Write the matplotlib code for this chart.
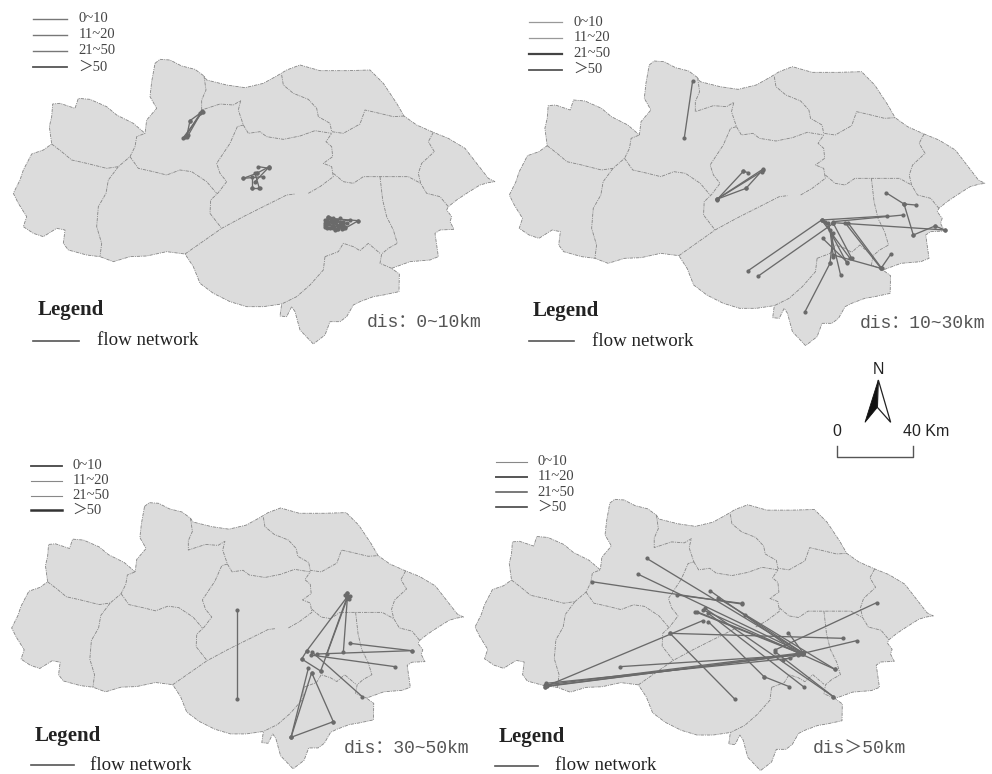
import numpy as np
import matplotlib
matplotlib.use("Agg")
import matplotlib.pyplot as plt
from matplotlib.patches import Polygon

# ---- map geometry, in the coordinates of the first panel ----
OUTLINE = [(465,190),(480,178),(510,180),(545,198),(585,208),(612,228),(620,240),(680,255),(735,263),(790,250),
 (830,228),(860,210),(900,195),(960,212),(1040,212),(1110,210),(1150,250),(1190,310),(1212,348),(1250,375),
 (1300,397),(1345,415),(1395,445),(1430,490),(1465,535),(1485,545),(1465,548),(1440,555),(1400,580),(1370,600),
 (1345,620),(1340,630),(1355,650),(1350,665),(1362,688),(1320,690),(1305,700),(1315,770),(1290,780),(1230,785),
 (1175,805),(1198,822),(1197,875),(1150,885),(1120,890),(1080,905),(1060,915),(1040,950),(1020,965),(990,965),
 (975,1005),(940,1032),(900,990),(885,935),(875,920),(860,950),(840,948),(845,912),(790,920),(740,920),
 (690,905),(640,880),(600,850),(580,800),(555,762),(500,755),(440,768),(390,770),(340,785),(300,770),
 (260,765),(205,750),(190,730),(195,690),(170,685),(130,710),(100,700),(70,680),(80,650),(55,610),
 (40,580),(60,540),(70,510),(95,462),(130,450),(155,432),(148,380),(155,350),(158,312),(180,310),
 (225,325),(235,295),(270,298),(320,320),(350,345),(400,370),(435,400),(440,360),(470,325),(450,290),(455,245)]
BORDERS = [
 [(155,432),(185,455),(215,480),(260,490),(320,505),(355,500),(390,470),(405,440),(410,410),(435,400)],
 [(355,500),(325,540),(318,580),(295,620),(290,680),(305,730),(300,770)],
 [(390,470),(415,505),(460,515),(500,525),(540,510),(575,515),(620,545),(650,580)],
 [(612,228),(618,270),(605,300),(605,330),(660,312),(700,315),(722,302),(715,330),(730,375),(712,380),(690,430),(650,490),(660,520),(680,545),(655,578),(632,600),(630,640),(665,685)],
 [(555,762),(665,685),(730,650),(800,615),(860,585),(885,582)],
 [(925,580),(960,560),(1000,530),(995,500),(970,490),(998,470),(995,440),(978,425),(995,400)],
 [(730,375),(745,400),(780,395),(800,410),(850,418),(900,408),(945,392),(995,400)],
 [(845,225),(850,255),(880,280),(925,298),(950,325),(955,350),(990,370),(995,395),(1030,400),(1080,372),(1095,330),(1130,338),(1180,350),(1212,348)],
 [(1300,397),(1285,425),(1303,455),(1265,490),(1255,520),(1262,550),(1280,580),(1320,590),(1345,620)],
 [(1000,520),(1030,545),(1060,550),(1090,530),(1140,530),(1190,530),(1225,530),(1262,550)],
 [(1140,530),(1148,600),(1160,650),(1180,690),(1192,730),(1165,745),(1145,762),(1140,790),(1175,805)],
 [(975,770),(1015,755),(1030,730),(1060,740),(1080,752),(1105,730),(1140,760)],
 [(975,770),(970,810),(930,855),(890,890),(845,912)],
]

# ---- flows per panel, as start and end points ----
FLOWS_1 = [((605,333),(555,412)),((600,340),(570,362)),((570,362),(560,410)),((608,335),(550,413)),((605,335),(565,405)),
 ((730,535),(770,520)),((770,520),(808,500)),((808,500),(765,545)),((808,505),(775,500)),((755,530),(755,565)),
 ((755,565),(780,565)),((730,535),(790,530)),((765,520),(778,565)),
 ((985,655),(1075,662)),((980,660),(1030,685)),((975,670),(1030,665)),((975,680),(1040,670)),((985,652),(1010,688)),
 ((990,685),(1020,655)),((1000,655),(1025,688)),((978,665),(1015,688)),((1035,685),(1075,662)),((985,670),(1050,660)),
 ((975,675),(1025,680)),((995,660),(1005,690)),((985,650),(1030,670)),((1010,660),(1035,680)),((980,685),(1030,675)),
 ((990,655),(1000,685)),((1005,660),(1015,685)),((1020,665),(1030,685)),((975,660),(1020,675))]
FLOWS_2 = [((578,242),(553,413)),((650,598),(788,508)),((650,598),(738,565)),((738,565),(788,510)),((650,600),(730,514)),
 ((730,514),(745,518)),((650,598),(785,515)),((965,660),(743,813)),((1000,670),(775,828)),((965,660),(1160,648)),
 ((1000,665),(1210,645)),((1212,612),(1158,578)),((1212,612),(1247,615)),((1212,612),(1240,705)),((1240,705),(1305,678)),
 ((1000,668),(1335,690)),((1305,678),(1335,690)),((965,660),(1050,775)),((975,665),(1040,788)),((985,670),(1022,826)),
 ((1000,670),(1055,775)),((990,690),(1000,770)),((968,715),(1040,785)),((1035,668),(1143,805)),((1045,670),(1145,805)),
 ((1000,765),(1143,805)),((1172,763),(1143,805)),((1000,700),(990,790)),((990,790),(915,935))]
FLOWS_3 = [((1042,440),(920,603)),((1042,445),(962,663)),((1042,445),(1030,607)),((1040,445),(980,612)),((905,627),(920,603)),
 ((905,627),(962,663)),((935,605),(1087,740)),((932,615),(1185,650)),((950,612),(1235,602)),((1050,580),(1235,602)),
 ((925,655),(873,862)),((935,668),(873,862)),((935,668),(1000,815)),((873,862),(1000,815)),((712,480),(712,747)),
 ((1042,428),(1042,445)),((1036,434),(1050,438)),((1040,430),(1046,448))]
FLOWS_4 = [((365,695),(815,762)),((620,735),(815,760)),((530,625),(1000,910)),((503,672),(1000,910)),((720,722),(985,910)),
 ((825,795),(1000,910)),((745,745),(1095,958)),((675,785),(990,910)),((705,775),(1090,1040)),((715,790),(1003,1012)),
 ((715,815),(882,980)),((882,980),(958,1010)),((600,850),(795,1048)),((600,850),(1120,865)),((698,812),(225,1010)),
 ((225,1005),(1000,908)),((225,1010),(990,912)),((228,1000),(960,925)),((450,950),(985,915)),((915,900),(1220,758)),
 ((955,848),(1000,910)),((1000,910),(1160,872)),((700,780),(1095,958)),((680,785),(1000,912)),((938,930),(995,912)),
 ((915,905),(1090,1040)),((230,1008),(1000,912))]

BIN_LABELS = ["0~10", "11~20", "21~50", "＞50"]
DIS_LABELS = ["dis：0~10km", "dis：10~30km", "dis：30~50km", "dis＞50km"]
FLOWS = [FLOWS_1, FLOWS_2, FLOWS_3, FLOWS_4]

# crop origin, map placement and label positions per panel
CROP = [(0,0),(500,0),(0,450),(470,350)]
MAP_ORIGIN = [(40,178),(28,183),(35,158),(15,448)]
MAP_SCALE = [(1,1),(.9875,1),(.938,.935),(.9516,.953)]
BIN_X = [(100,200,235),(88,187,220),(93,187,218),(77,170,203)]
BIN_Y = [(57,105,153,202),(66,113,161,209),(47,92,137,181),(335,381,426,471)]
BIN_LW = [(1,1,1,1.3),(.9,.9,1.6,1.3),(1.3,.8,.8,1.8),(.8,1.4,1.1,1.2)]
BIN_C = [("#777777","#777777","#777777","#555555"),("#999999","#999999","#444444","#555555"),
         ("#444444","#888888","#888888","#333333"),("#888888","#555555","#555555","#444444")]
LEG_POS = [(112,930),(97,932),(103,858),(85,1162)]
LINE_POS = [(100,238,1022,290),(86,223,1023,275),(93,222,945,270),(75,205,1248,255)]
DIS_POS = [(1100,968),(1080,970),(1030,895),(1028,1198)]

SERIF = ["Liberation Serif", "Noto Sans CJK SC"]
MONO = ["Liberation Mono", "Noto Sans CJK SC"]
FILL = "#dcdcdc"; EDGE = "#858585"; FLOW = "#6a6a6a"; TXT = "#444444"
DASH = (0, (4, 1.2, 1.2, 1.2))

fig = plt.figure(figsize=(9.92, 7.74), dpi=100)
ax = fig.add_axes([0, 0, 1, 1])
ax.set_xlim(0, 992); ax.set_ylim(774, 0); ax.axis("off")

for i in range(4):
    cx, cy = CROP[i]
    def P(x, y):
        return cx + np.asarray(x) / 3, cy + np.asarray(y) / 3
    def M(pts):
        a = np.array(pts, float)
        ox, oy = MAP_ORIGIN[i]; sx, sy = MAP_SCALE[i]
        return np.column_stack(P(ox + (a[:, 0] - 40) * sx, oy + (a[:, 1] - 178) * sy))
    ax.add_patch(Polygon(M(OUTLINE), closed=True, fc=FILL, ec=EDGE, lw=.6, ls=DASH, zorder=1))
    for b in BORDERS:
        q = M(b)
        ax.plot(q[:, 0], q[:, 1], color=EDGE, lw=.6, ls=DASH, zorder=2)
    for s, e in FLOWS[i]:
        x, y = P([s[0], e[0]], [s[1], e[1]])
        ax.plot(x, y, color=FLOW, lw=.95, marker="o", ms=2.0, mec=FLOW, mfc=FLOW, zorder=3)
    x0, x1, xt = BIN_X[i]
    for j, yy in enumerate(BIN_Y[i]):
        x, y = P([x0, x1], [yy, yy])
        ax.plot(x, y, color=BIN_C[i][j], lw=BIN_LW[i][j], zorder=3)
        tx, ty = P(xt, yy)
        ax.text(tx, ty, BIN_LABELS[j], family=SERIF, fontsize=10.5, color=TXT, va="center", ha="left")
    lx, ly = P(*LEG_POS[i])
    ax.text(lx, ly, "Legend", family="Liberation Serif", fontweight="bold", fontsize=15, color="#222222", va="center", ha="left")
    a, b_, yy, xt = LINE_POS[i]
    x, y = P([a, b_], [yy, yy])
    ax.plot(x, y, color="#555555", lw=1.2)
    tx, ty = P(xt, yy)
    ax.text(tx, ty, "flow network", family="Liberation Serif", fontsize=13.6, color="#222222", va="center", ha="left")
    dx, dy = P(*DIS_POS[i])
    ax.text(dx, dy, DIS_LABELS[i], family=MONO, fontsize=13, color="#555555", va="center", ha="left")

# north arrow and scale bar
def Z(pts):
    a = np.array(pts, float)
    return np.column_stack((470 + a[:, 0] / 3, 350 + a[:, 1] / 3))
ax.add_patch(Polygon(Z([(1225,90),(1185,217),(1222,172)]), closed=True, fc="#111111", ec="#111111", lw=.6))
ax.add_patch(Polygon(Z([(1225,90),(1262,217),(1222,172)]), closed=True, fc="white", ec="#222222", lw=.9))
sb = Z([(1102,288),(1102,321),(1328,321),(1328,288)])
ax.plot(sb[:, 0], sb[:, 1], color="#555555", lw=1)
for (zx, zy), s, ha in [((1224,57),"N","center"),((1100,245),"0","center"),((1300,245),"40 Km","left")]:
    q = Z([(zx, zy)])[0]
    ax.text(q[0], q[1], s, family="Liberation Sans", fontsize=11.5, color="#222222", va="center", ha=ha)

fig.savefig("out.png", dpi=100, facecolor="white")
